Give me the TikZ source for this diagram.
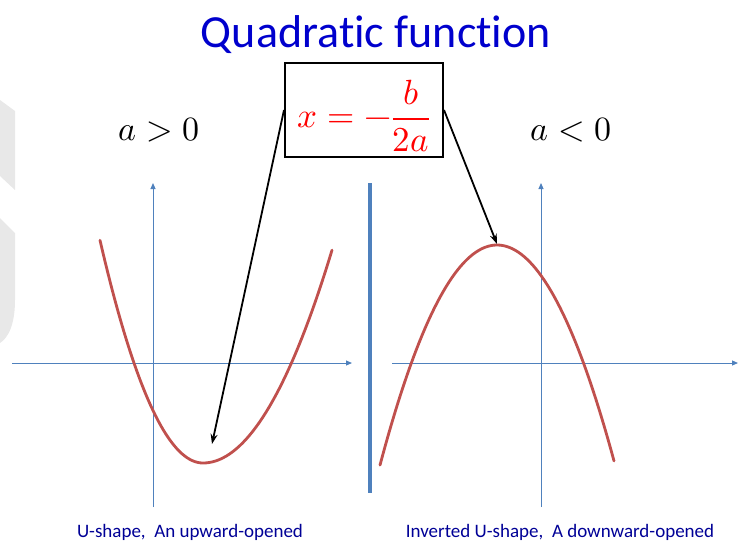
\documentclass[tikz,border=0pt]{standalone}
\usepackage{amsmath}
\usepackage{fontspec}
\usepackage{unicode-math}
\setmainfont{Carlito}[Ligatures=NoCommon]
\setmathfont{Latin Modern Math}
\usepackage{tikz}
\usetikzlibrary{positioning,arrows.meta}
\definecolor{axblue}{RGB}{79,129,189}
\definecolor{parabred}{RGB}{192,80,77}
\definecolor{titleblue}{RGB}{0,0,205}
\definecolor{captblue}{RGB}{0,0,150}
\tikzset{
  axarrow/.style={axblue, line width=1pt, -{Triangle[length=6pt,width=5pt]}},
  parab/.style={parabred, line width=2.8pt, line cap=round},
  pointer/.style={black, line width=1.8pt, -{Stealth[length=10pt,width=7pt]}},
  formbox/.style={rectangle, draw=black, line width=2pt, fill=white,
                  minimum width=158pt, minimum height=94pt, inner sep=0pt},
  signlbl/.style={anchor=base, font=\fontsize{34}{40}\selectfont},
  captlbl/.style={captblue, anchor=base, font=\fontsize{19}{22}\selectfont},
}

\begin{document}
\begin{tikzpicture}[x=1pt,y=-1pt]
\useasboundingbox (0,0) rectangle (746,544);
% faint mark on the left edge
\fill[black!9] (0,100) -- (15,111) -- (15,190) -- (0,176) -- cycle;
\fill[black!9] (0,218) -- (15,233) -- (15,300) .. controls (15,325) and (8,338) .. (0,343) -- cycle;

\node[titleblue, anchor=base, font=\fontsize{46}{50}\selectfont] (title) at (376,47) {Quadratic function};
\node[signlbl] (apos) at (159,140) {$a>0$};
\node[signlbl] (aneg) at (571,140) {$a<0$};

% axes
\coordinate (lx0) at (12,363);  \coordinate (lx1) at (352,363);
\coordinate (ly0) at (153,507); \coordinate (ly1) at (153,183);
\coordinate (rx0) at (392,363); \coordinate (rx1) at (738,363);
\coordinate (ry0) at (541,507); \coordinate (ry1) at (541,183);
\draw[axarrow] (lx0) -- (lx1);
\draw[axarrow] (ly0) -- (ly1);
\draw[axarrow] (rx0) -- (rx1);
\draw[axarrow] (ry0) -- (ry1);
\draw[axblue, line width=4pt] (370,183) -- (370,493);

% the two parabolas
\draw[parab] plot[domain=100:203, samples=40] (\x,{463-(0.1449*(\x-203))^2})
  -- plot[domain=203:332, samples=40] (\x,{463-(0.1131*(\x-203))^2});
\draw[parab] plot[domain=380:497, samples=40] (\x,{245+(0.1268*(\x-497))^2})
  -- plot[domain=497:614, samples=40] (\x,{245+(0.1256*(\x-497))^2});
\coordinate (lmin) at (212,444);
\coordinate (rmax) at (497,244);

% vertex formula
\node[formbox] (form) at (364,110) {};
\node[red, font=\fontsize{35}{40}\selectfont] (frm) at ([yshift=-6pt]form.center) {$\displaystyle x=-\frac{b}{2a}$};
\draw[pointer] (form.west) -- (lmin);
\draw[pointer] (form.east) -- (rmax);

\node[captlbl] (capl) at (190,537) {U-shape,\ \ An upward-opened};
\node[captlbl] (capr) at (560,537) {Inverted U-shape,\ \ A downward-opened};
\end{tikzpicture}
\end{document}
